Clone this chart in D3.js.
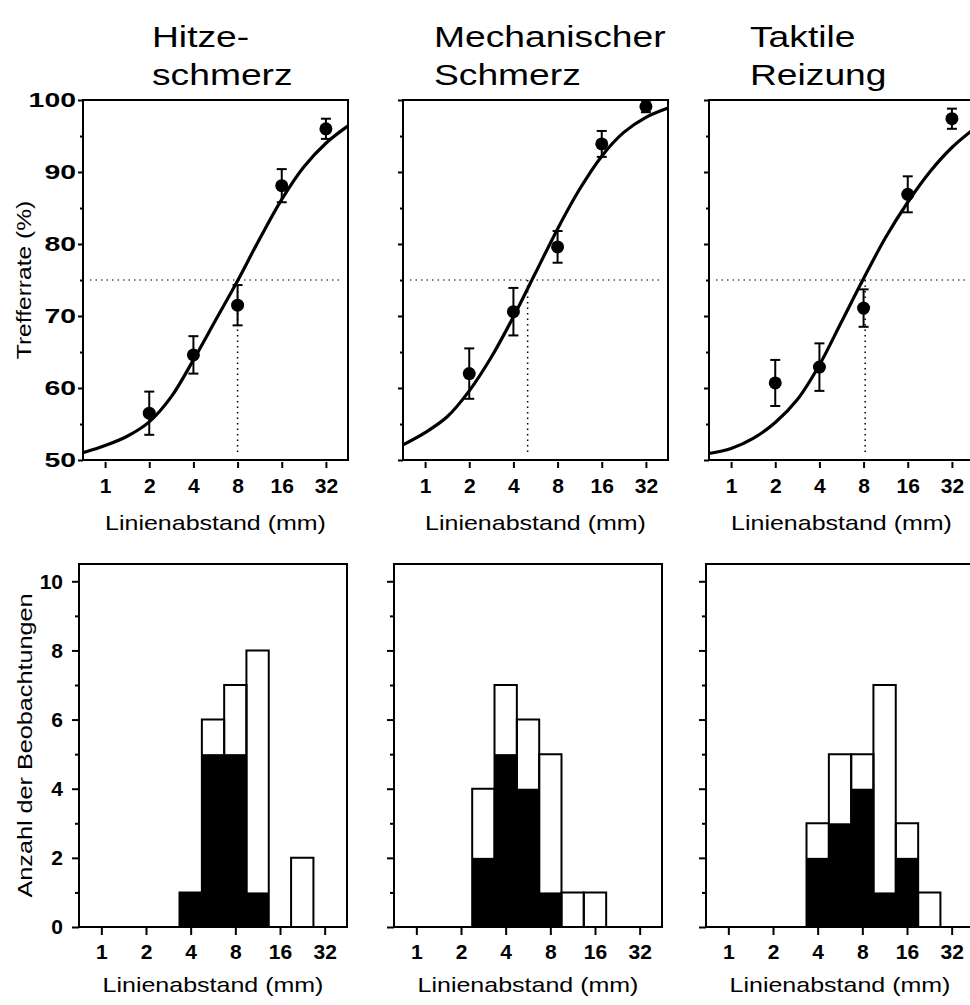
<!DOCTYPE html>
<html>
<head>
<meta charset="utf-8">
<script src="https://cdn.jsdelivr.net/npm/d3@7"></script>
<style>
  body { margin: 0; background: #fff; }
  svg { display: block; font-family: "Liberation Sans", Arial, sans-serif; }
</style>
</head>
<body>
<svg id="chart" width="970" height="1005"></svg>
<script>
// ---- data ----
const panelTitles = [["Hitze-", "schmerz"], ["Mechanischer", "Schmerz"], ["Taktile", "Reizung"]];
const xTicks = [1, 2, 4, 8, 16, 32];

// psychometric panels: mean hit rate (%) and error bar per line spacing
const pointX = [2, 4, 8, 16, 32];
const hitzeY = [56.5, 64.6, 71.5, 88.1, 96.0];
const hitzeErr = [3.0, 2.6, 2.8, 2.3, 1.4];
const mechY = [62.0, 70.6, 79.6, 93.9, 99.1];
const mechErr = [3.5, 3.3, 2.2, 1.8, 0.8];
const taktY = [60.7, 62.9, 71.1, 86.9, 97.4];
const taktErr = [3.2, 3.3, 2.6, 2.5, 1.4];

// fitted curves at half-octave steps
const curveX = [0.707, 1, 1.414, 2, 2.83, 4, 5.66, 8, 11.3, 16, 22.6, 32, 45.3];
const hitzeCurve = [51.0, 52.0, 53.3, 55.3, 58.8, 63.9, 69.4, 74.9, 80.7, 86.2, 90.7, 94.0, 96.4];
const mechCurve = [52.1, 53.8, 56.0, 59.6, 64.3, 69.9, 76.0, 82.1, 87.6, 92.2, 95.5, 97.6, 98.9];
const taktCurve = [50.9, 51.6, 53.0, 55.2, 58.4, 63.2, 69.2, 75.2, 80.9, 85.8, 90.0, 93.4, 96.0];
const thresholds = [8, 5, 8.2];

// histograms: bin centres (mm), total count and black (filled) part
const hitzeBins = [4, 5.66, 8, 11.3, 16, 22.6];
const hitzeTotal = [1, 6, 7, 8, 0, 2];
const hitzeBlack = [1, 5, 5, 1, 0, 0];
const mechBins = [2, 2.83, 4, 5.66, 8, 11.3, 16, 22.6, 32];
const mechTotal = [0, 4, 7, 6, 5, 1, 1, 0, 0];
const mechBlack = [0, 2, 5, 4, 1, 0, 0, 0, 0];
const taktBins = [4, 5.66, 8, 11.3, 16, 22.6];
const taktTotal = [3, 5, 5, 7, 3, 1];
const taktBlack = [2, 3, 4, 1, 2, 0];

// ---- layout ----
const svg = d3.select("#chart");
const topLefts = [83, 403, 709];
const botLefts = [79, 394, 706];
const topW = 265, botW = 268;
const topY0 = 100, topY1 = 460;
const botY0 = 564, botY1 = 927;

const topData = [
  { y: hitzeY, err: hitzeErr, curve: hitzeCurve },
  { y: mechY, err: mechErr, curve: mechCurve },
  { y: taktY, err: taktErr, curve: taktCurve }
];
const botData = [
  { bins: hitzeBins, total: hitzeTotal, black: hitzeBlack },
  { bins: mechBins, total: mechTotal, black: mechBlack },
  { bins: taktBins, total: taktTotal, black: taktBlack }
];

// stretch text along its own direction
function stretch(sel, k) {
  sel.each(function () {
    const w = this.getComputedTextLength();
    d3.select(this).attr("textLength", w * k).attr("lengthAdjust", "spacingAndGlyphs");
  });
}

// titles
const titleX = [152, 434, 750];
panelTitles.forEach((lines, i) => {
  lines.forEach((t, j) => {
    svg.append("text")
      .attr("x", titleX[i])
      .attr("y", 47 + j * 38)
      .attr("font-size", 30)
      .text(t)
      .call(stretch, 1.24);
  });
});

// ---- top row: hit rate vs line spacing ----
topData.forEach((d, i) => {
  const left = topLefts[i];
  const x = d3.scaleLog().base(2)
    .domain([Math.SQRT1_2, 32 * Math.SQRT2])
    .range([left, left + topW]);
  const y = d3.scaleLinear().domain([50, 100]).range([topY1, topY0]);
  const g = svg.append("g");

  // y axis: minor then major ticks
  const yMinor = g.append("g").attr("transform", `translate(${left},0)`)
    .call(d3.axisLeft(y).tickValues(d3.range(55, 100, 10)).tickSize(3).tickFormat(""));
  const yMajor = g.append("g").attr("transform", `translate(${left},0)`)
    .call(d3.axisLeft(y).tickValues(d3.range(50, 101, 10)).tickSize(5).tickPadding(2)
      .tickFormat(i === 0 ? d3.format("d") : ""));
  [yMinor, yMajor].forEach(a => {
    a.select(".domain").remove();
    a.selectAll("line").attr("stroke-width", 2);
  });
  yMajor.selectAll("text")
    .attr("font-size", 20).attr("font-weight", "bold").attr("fill", "#000")
    .attr("font-family", "'Liberation Sans', Arial, sans-serif")
    .call(stretch, 1.42);

  // x axis
  const xa = g.append("g").attr("transform", `translate(0,${topY1 + 2})`)
    .call(d3.axisBottom(x).tickValues(xTicks).tickFormat(d3.format("d")).tickSize(6).tickPadding(10));
  xa.select(".domain").remove();
  xa.selectAll("line").attr("stroke-width", 2);
  xa.selectAll("text")
    .attr("font-size", 21).attr("font-weight", "bold").attr("fill", "#000")
    .attr("font-family", "'Liberation Sans', Arial, sans-serif");

  g.append("text")
    .attr("x", left + topW / 2).attr("y", 530)
    .attr("text-anchor", "middle").attr("font-size", 21)
    .text("Linienabstand (mm)")
    .call(stretch, 1.19);

  // frame
  g.append("rect")
    .attr("x", left).attr("y", topY0).attr("width", topW).attr("height", topY1 - topY0)
    .attr("fill", "none").attr("stroke", "#000").attr("stroke-width", 2);

  // 75 % threshold guides
  g.append("line")
    .attr("x1", left + 7).attr("x2", left + topW - 5)
    .attr("y1", y(75)).attr("y2", y(75))
    .attr("stroke", "#000").attr("stroke-width", 1.2).attr("stroke-dasharray", "1.5,4");
  g.append("line")
    .attr("x1", x(thresholds[i])).attr("x2", x(thresholds[i]))
    .attr("y1", y(75)).attr("y2", y(51))
    .attr("stroke", "#000").attr("stroke-width", 1.5).attr("stroke-dasharray", "1.5,4");

  // fitted curve
  const line = d3.line()
    .x(p => x(p[0]))
    .y(p => y(p[1]))
    .curve(d3.curveCatmullRom.alpha(0.5));
  g.append("path")
    .datum(curveX.map((v, k) => [v, d.curve[k]]))
    .attr("d", line)
    .attr("fill", "none").attr("stroke", "#000").attr("stroke-width", 3.2);

  // error bars and points
  const pts = pointX.map((v, k) => ({ x: v, y: d.y[k], e: d.err[k] }));
  const eb = g.selectAll(".eb").data(pts).enter().append("g");
  eb.append("line")
    .attr("x1", p => x(p.x)).attr("x2", p => x(p.x))
    .attr("y1", p => y(p.y - p.e)).attr("y2", p => y(p.y + p.e))
    .attr("stroke", "#000").attr("stroke-width", 2);
  [-1, 1].forEach(s => {
    eb.append("line")
      .attr("x1", p => x(p.x) - 5).attr("x2", p => x(p.x) + 5)
      .attr("y1", p => y(p.y + s * p.e)).attr("y2", p => y(p.y + s * p.e))
      .attr("stroke", "#000").attr("stroke-width", 2);
  });
  eb.append("circle")
    .attr("cx", p => x(p.x)).attr("cy", p => y(p.y)).attr("r", 6.5)
    .attr("fill", "#000");
});

// ---- bottom row: histograms of thresholds ----
botData.forEach((d, i) => {
  const left = botLefts[i];
  const x = d3.scaleLog().base(2)
    .domain([Math.SQRT1_2, 32 * Math.SQRT2])
    .range([left, left + botW]);
  const y = d3.scaleLinear().domain([0, 10.5]).range([botY1, botY0]);
  const g = svg.append("g");

  const yMinor = g.append("g").attr("transform", `translate(${left},0)`)
    .call(d3.axisLeft(y).tickValues(d3.range(1, 10, 2)).tickSize(4).tickFormat(""));
  const yMajor = g.append("g").attr("transform", `translate(${left},0)`)
    .call(d3.axisLeft(y).tickValues(d3.range(0, 11, 2)).tickSize(7).tickPadding(9)
      .tickFormat(i === 0 ? d3.format("d") : ""));
  [yMinor, yMajor].forEach(a => {
    a.select(".domain").remove();
    a.selectAll("line").attr("stroke-width", 2);
  });
  yMajor.selectAll("text")
    .attr("font-size", 21).attr("font-weight", "bold").attr("fill", "#000")
    .attr("font-family", "'Liberation Sans', Arial, sans-serif");

  const xa = g.append("g").attr("transform", `translate(0,${botY1 + 1})`)
    .call(d3.axisBottom(x).tickValues(xTicks).tickFormat(d3.format("d")).tickSize(7).tickPadding(9));
  xa.select(".domain").remove();
  xa.selectAll("line").attr("stroke-width", 2);
  xa.selectAll("text")
    .attr("font-size", 21).attr("font-weight", "bold").attr("fill", "#000")
    .attr("font-family", "'Liberation Sans', Arial, sans-serif");

  g.append("text")
    .attr("x", left + botW / 2).attr("y", 992)
    .attr("text-anchor", "middle").attr("font-size", 21)
    .text("Linienabstand (mm)")
    .call(stretch, 1.19);

  // bars: black part filled, total outlined
  const bins = d.bins.map((c, k) => ({
    x0: c * Math.pow(2, -0.25), x1: c * Math.pow(2, 0.25),
    total: d.total[k], black: d.black[k]
  }));
  g.selectAll(".blk").data(bins.filter(b => b.black > 0)).enter().append("rect")
    .attr("x", b => x(b.x0)).attr("width", b => x(b.x1) - x(b.x0))
    .attr("y", b => y(b.black)).attr("height", b => y(0) - y(b.black))
    .attr("fill", "#000");
  g.selectAll(".tot").data(bins).enter().append("path")
    .attr("d", b => `M${x(b.x0)},${y(0)}V${y(b.total)}H${x(b.x1)}V${y(0)}`)
    .attr("fill", "none").attr("stroke", "#000").attr("stroke-width", 2);

  g.append("rect")
    .attr("x", left).attr("y", botY0).attr("width", botW).attr("height", botY1 - botY0)
    .attr("fill", "none").attr("stroke", "#000").attr("stroke-width", 2);
});

// y axis titles
svg.append("text")
  .attr("transform", `translate(31,${(topY0 + topY1) / 2}) rotate(-90)`)
  .attr("text-anchor", "middle").attr("font-size", 21)
  .text("Trefferrate (%)")
  .call(stretch, 1.17);
svg.append("text")
  .attr("transform", `translate(32,${(botY0 + botY1) / 2}) rotate(-90)`)
  .attr("text-anchor", "middle").attr("font-size", 21)
  .text("Anzahl der Beobachtungen")
  .call(stretch, 1.2);
</script>
</body>
</html>
